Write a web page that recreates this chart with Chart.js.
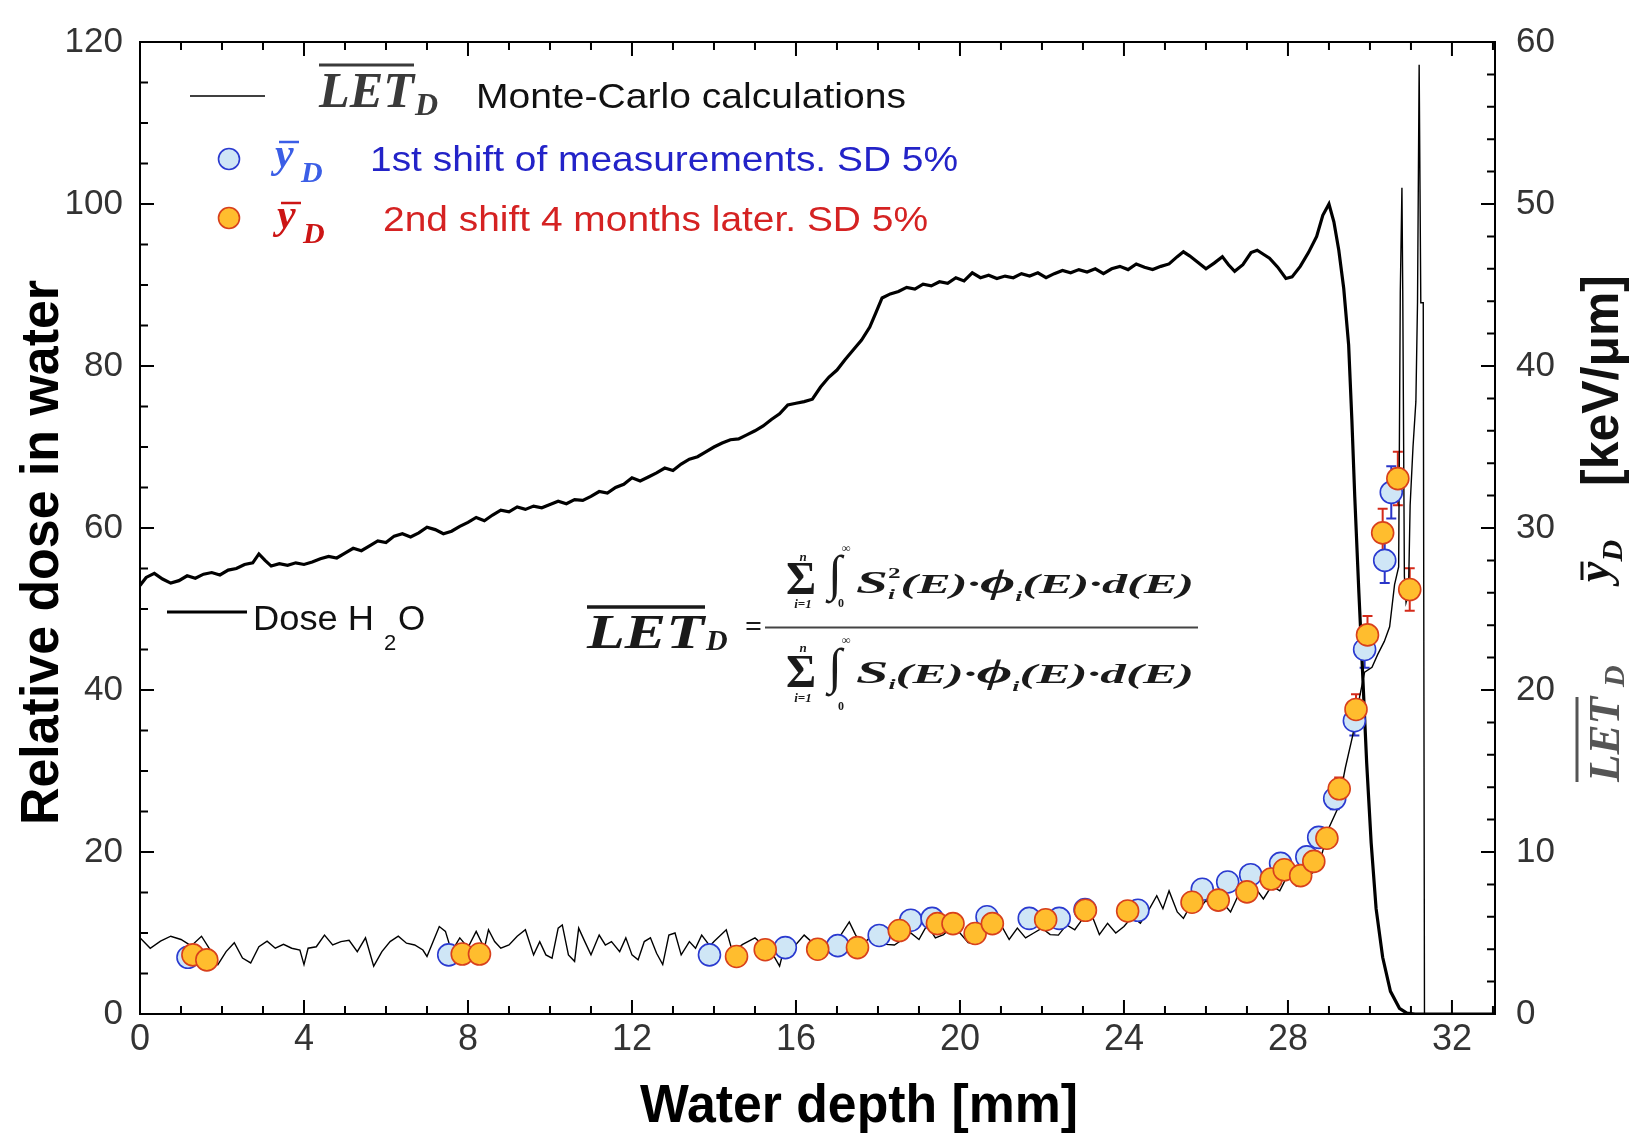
<!DOCTYPE html>
<html>
<head>
<meta charset="utf-8">
<script src="https://cdn.jsdelivr.net/npm/chart.js@4.4.1/dist/chart.umd.min.js"></script>
<style>
  html, body { margin: 0; padding: 0; background: #fff; }
</style>
</head>
<body>
<canvas id="myChart" width="1641" height="1134"></canvas>
<script>
// [depth mm, relative dose]
const doseCurve = [
  [0, 52.9], [0.15, 53.9], [0.35, 54.4], [0.55, 53.7], [0.75, 53.2], [0.95, 53.5], [1.15, 54.1], [1.35, 53.8],
  [1.55, 54.3], [1.75, 54.5], [1.95, 54.2], [2.15, 54.8], [2.35, 55.0], [2.55, 55.5], [2.75, 55.7], [2.9, 56.8],
  [3.05, 56.0], [3.2, 55.3], [3.4, 55.6], [3.6, 55.4], [3.8, 55.7], [4.0, 55.5], [4.2, 55.8], [4.4, 56.2],
  [4.6, 56.5], [4.8, 56.3], [5.0, 56.9], [5.2, 57.5], [5.4, 57.2], [5.6, 57.8], [5.8, 58.4], [6.0, 58.2],
  [6.2, 59.0], [6.4, 59.3], [6.6, 58.9], [6.8, 59.4], [7.0, 60.1], [7.2, 59.8], [7.4, 59.3], [7.6, 59.6],
  [7.8, 60.2], [8.0, 60.7], [8.2, 61.3], [8.4, 60.9], [8.6, 61.6], [8.8, 62.2], [9.0, 62.0], [9.2, 62.6],
  [9.4, 62.3], [9.6, 62.7], [9.8, 62.5], [10.0, 62.9], [10.2, 63.3], [10.4, 63.0], [10.6, 63.5], [10.8, 63.4],
  [11.0, 63.9], [11.2, 64.5], [11.4, 64.3], [11.6, 65.0], [11.8, 65.4], [12.0, 66.2], [12.2, 65.8], [12.4, 66.3],
  [12.6, 66.8], [12.8, 67.4], [13.0, 67.1], [13.2, 67.9], [13.4, 68.5], [13.6, 68.8], [13.8, 69.4], [14.0, 70.0],
  [14.2, 70.5], [14.4, 70.9], [14.6, 71.0], [14.8, 71.5], [15.0, 72.0], [15.2, 72.6], [15.4, 73.4], [15.6, 74.1],
  [15.8, 75.2], [16.0, 75.4], [16.2, 75.6], [16.4, 75.9], [16.6, 77.4], [16.8, 78.6], [17.0, 79.5], [17.2, 80.8],
  [17.4, 82.0], [17.6, 83.2], [17.8, 84.8], [17.95, 86.6], [18.1, 88.4], [18.3, 88.9], [18.5, 89.2], [18.7, 89.7],
  [18.9, 89.5], [19.1, 90.1], [19.3, 89.9], [19.5, 90.4], [19.7, 90.2], [19.9, 90.9], [20.1, 90.5], [20.3, 91.5],
  [20.5, 90.9], [20.7, 91.2], [20.9, 90.8], [21.1, 91.1], [21.3, 90.9], [21.5, 91.4], [21.7, 91.1], [21.9, 91.5],
  [22.1, 90.9], [22.3, 91.4], [22.5, 91.8], [22.7, 91.5], [22.9, 91.9], [23.1, 91.6], [23.3, 92.0], [23.5, 91.4],
  [23.7, 92.0], [23.9, 92.3], [24.1, 91.9], [24.3, 92.6], [24.5, 92.2], [24.7, 91.9], [24.9, 92.3], [25.1, 92.6],
  [25.3, 93.5], [25.45, 94.1], [25.6, 93.6], [25.8, 92.8], [26.0, 92.0], [26.2, 92.7], [26.4, 93.5], [26.55, 92.5],
  [26.7, 91.7], [26.9, 92.5], [27.1, 94.0], [27.25, 94.3], [27.4, 93.8], [27.55, 93.3], [27.75, 92.2], [27.95, 90.8],
  [28.1, 91.0], [28.3, 92.3], [28.5, 94.0], [28.7, 96.0], [28.85, 98.6], [29.0, 100.0], [29.12, 97.8], [29.24, 94.3],
  [29.36, 89.6], [29.48, 82.6], [29.56, 73.2], [29.63, 63.8], [29.73, 52.0], [29.82, 42.2], [29.92, 31.0], [30.03, 21.1],
  [30.15, 13.0], [30.31, 7.0], [30.5, 2.8], [30.72, 0.7], [30.9, 0.1], [31.1, 0], [33.05, 0]
];

// [depth mm, LET_D keV/um] Monte-Carlo
const letCurve = [
  [0, 4.7], [0.25, 4.06], [0.5, 4.5], [0.75, 4.8], [1.0, 4.6], [1.25, 4.2], [1.5, 4.8], [1.7, 4.0], [1.9, 3.05],
  [2.1, 3.85], [2.3, 4.4], [2.5, 3.45], [2.7, 3.15], [2.9, 4.15], [3.1, 4.5], [3.3, 4.06], [3.5, 4.3], [3.7, 4.06],
  [3.9, 3.95], [4.0, 3.05], [4.1, 4.06], [4.3, 4.15], [4.5, 4.87], [4.7, 4.26], [4.9, 4.47], [5.1, 4.55], [5.3, 3.85],
  [5.5, 4.7], [5.7, 2.95], [5.9, 3.85], [6.1, 4.47], [6.3, 4.8], [6.5, 4.37], [6.7, 4.26], [6.9, 3.95], [7.0, 3.55],
  [7.15, 4.47], [7.3, 5.4], [7.45, 5.1], [7.6, 3.85], [7.8, 4.7], [8.0, 4.1], [8.2, 5.1], [8.4, 4.06], [8.5, 5.2],
  [8.65, 4.47], [8.8, 4.06], [9.0, 4.26], [9.2, 4.8], [9.4, 5.2], [9.6, 3.65], [9.75, 4.47], [9.9, 3.65], [10.05, 3.45],
  [10.2, 5.3], [10.3, 5.5], [10.45, 3.65], [10.6, 3.25], [10.7, 5.3], [10.85, 4.47], [11.0, 3.65], [11.2, 4.87],
  [11.35, 4.26], [11.5, 4.47], [11.7, 3.85], [11.85, 4.7], [12.0, 3.65], [12.15, 3.35], [12.3, 4.47], [12.45, 4.7],
  [12.6, 3.75], [12.75, 3.05], [12.9, 4.87], [13.05, 5.0], [13.2, 3.65], [13.4, 4.47], [13.55, 4.06], [13.7, 4.87],
  [13.9, 4.2], [14.0, 4.47], [14.3, 5.2], [14.45, 3.85], [14.7, 4.3], [15.0, 4.7], [15.2, 4.26], [15.4, 3.85],
  [15.6, 2.95], [15.75, 4.47], [16.0, 4.3], [16.2, 4.87], [16.45, 4.3], [16.7, 4.06], [16.9, 4.5], [17.1, 4.9],
  [17.3, 5.68], [17.45, 4.9], [17.6, 4.26], [17.8, 4.7], [18.0, 4.5], [18.2, 4.3], [18.4, 4.26], [18.6, 4.6],
  [18.8, 5.0], [19.0, 4.6], [19.2, 5.5], [19.4, 4.7], [19.6, 4.9], [19.8, 5.4], [20.0, 5.0], [20.2, 4.4], [20.4, 4.3],
  [20.6, 5.1], [20.8, 5.6], [21.0, 5.5], [21.2, 4.6], [21.4, 5.3], [21.6, 4.7], [21.8, 5.0], [22.0, 5.3], [22.2, 4.9],
  [22.4, 4.87], [22.6, 5.5], [22.8, 5.2], [23.0, 5.9], [23.2, 6.2], [23.4, 4.9], [23.6, 5.6], [23.8, 5.0], [24.0, 5.4],
  [24.2, 6.0], [24.4, 5.6], [24.6, 6.4], [24.8, 7.3], [24.95, 6.5], [25.1, 7.6], [25.3, 6.3], [25.45, 5.9], [25.6, 6.6],
  [25.8, 6.4], [26.0, 7.0], [26.2, 6.5], [26.4, 6.9], [26.6, 6.3], [26.8, 7.4], [27.0, 7.2], [27.2, 7.8], [27.4, 7.1],
  [27.6, 7.9], [27.8, 7.6], [28.0, 8.6], [28.2, 7.9], [28.4, 8.8], [28.6, 8.7], [28.8, 9.6], [29.0, 11.5], [29.2, 12.6],
  [29.4, 15.2], [29.58, 17.2], [29.75, 19.6], [29.87, 21.1], [30.05, 21.4], [30.19, 22.2], [30.35, 23.0], [30.48, 23.9],
  [30.6, 26.5], [30.7, 27.6], [30.74, 44.6], [30.78, 51.0], [30.8, 44.6], [30.84, 27.0], [30.88, 25.4], [30.94, 26.0],
  [30.98, 31.4], [31.05, 35.0], [31.12, 37.8], [31.16, 43.9], [31.2, 58.6], [31.24, 43.9], [31.3, 43.9], [31.33, 0],
  [33.05, 0]
];

// [depth mm, y_D keV/um] measurements
const shift1 = [
  [1.17, 3.5], [7.53, 3.65], [13.89, 3.65], [15.74, 4.1], [17.02, 4.22], [18.03, 4.85], [18.8, 5.79], [19.32, 5.9],
  [20.66, 6.0], [21.69, 5.9], [22.42, 5.9], [23.05, 6.45], [24.34, 6.4], [25.91, 7.7], [26.53, 8.15], [27.09, 8.6],
  [27.82, 9.3], [28.46, 9.7], [28.75, 10.9], [29.14, 13.3], [29.62, 18.1], [29.87, 22.5], [30.36, 28.0], [30.52, 32.2]
];
const shift2 = [
  [1.29, 3.65], [1.63, 3.34], [7.86, 3.7], [8.28, 3.7], [14.55, 3.55], [15.25, 3.97], [16.53, 4.0], [17.5, 4.1],
  [18.52, 5.15], [19.45, 5.58], [19.83, 5.58], [20.37, 4.97], [20.79, 5.58], [22.09, 5.82], [23.06, 6.4], [24.09, 6.36],
  [25.66, 6.9], [26.3, 7.03], [27.0, 7.54], [27.59, 8.33], [27.91, 8.9], [28.31, 8.54], [28.63, 9.42], [28.95, 10.85],
  [29.25, 13.9], [29.66, 18.8], [29.94, 23.4], [30.31, 29.7], [30.68, 33.05], [30.97, 26.2]
];
const sdFraction = 0.05;

const xTickValues = [0, 4, 8, 12, 16, 20, 24, 28, 32];
const yTickValues = [0, 20, 40, 60, 80, 100, 120];
const y2TickValues = [0, 10, 20, 30, 40, 50, 60];

const SANS = '"Liberation Sans", Arial, Helvetica, sans-serif';
const SERIF = '"Liberation Serif", "Times New Roman", serif';
const bi = s => `italic bold ${s}px ${SERIF}`;

const toXY = arr => arr.map(p => ({ x: p[0], y: p[1] }));

function fitText(ctx, text, x, y, width) {
  const w = ctx.measureText(text).width;
  ctx.save();
  ctx.translate(x, y);
  ctx.scale(width / w, 1);
  ctx.fillText(text, 0, 0);
  ctx.restore();
}

function drawSeq(ctx, pieces, x, base, width) {
  let natural = 0;
  pieces.forEach(p => { ctx.font = p.f; if (!p.stay) natural += ctx.measureText(p.t).width; });
  ctx.save();
  ctx.translate(x, base);
  ctx.scale(width / natural, 1);
  let cx = 0;
  pieces.forEach(p => {
    ctx.font = p.f;
    ctx.fillText(p.t, cx, p.dy || 0);
    if (!p.stay) cx += ctx.measureText(p.t).width;
  });
  ctx.restore();
}

function overline(ctx, x1, x2, y, w) {
  ctx.beginPath();
  ctx.lineWidth = w;
  ctx.moveTo(x1, y);
  ctx.lineTo(x2, y);
  ctx.stroke();
}

function marker(ctx, x, y, fill, stroke) {
  ctx.beginPath();
  ctx.arc(x, y, 10.5, 0, Math.PI * 2);
  ctx.fillStyle = fill;
  ctx.fill();
  ctx.lineWidth = 1.6;
  ctx.strokeStyle = stroke;
  ctx.stroke();
}

const errorBars = {
  id: 'errorBars',
  beforeDatasetsDraw(chart) {
    const ctx = chart.ctx, xs = chart.scales.x, ys = chart.scales.y2;
    chart.data.datasets.forEach(ds => {
      if (!ds.errColor) return;
      ctx.save();
      ctx.strokeStyle = ds.errColor;
      ctx.lineWidth = 2;
      ds.data.forEach(p => {
        const px = xs.getPixelForValue(p.x);
        const hi = ys.getPixelForValue(p.y * (1 + sdFraction));
        const lo = ys.getPixelForValue(p.y * (1 - sdFraction));
        ctx.beginPath();
        ctx.moveTo(px, hi); ctx.lineTo(px, lo);
        ctx.moveTo(px - 5, hi); ctx.lineTo(px + 5, hi);
        ctx.moveTo(px - 5, lo); ctx.lineTo(px + 5, lo);
        ctx.stroke();
      });
      ctx.restore();
    });
  }
};

// frame + inward ticks
const frameTicks = {
  id: 'frameTicks',
  afterDatasetsDraw(chart) {
    const ctx = chart.ctx, a = chart.chartArea;
    const { x, y, y2 } = chart.scales;
    ctx.save();
    ctx.strokeStyle = '#000';
    ctx.lineWidth = 2;
    ctx.strokeRect(a.left, a.top, a.right - a.left, a.bottom - a.top);
    ctx.beginPath();
    for (let v = 0; v <= 33; v += 1) {
      const px = x.getPixelForValue(v);
      const len = v % 4 === 0 ? 14 : 8;
      ctx.moveTo(px, a.bottom); ctx.lineTo(px, a.bottom - len);
      ctx.moveTo(px, a.top); ctx.lineTo(px, a.top + len);
    }
    for (let v = 0; v <= 120; v += 5) {
      const py = y.getPixelForValue(v);
      const len = v % 20 === 0 ? 14 : 8;
      ctx.moveTo(a.left, py); ctx.lineTo(a.left + len, py);
    }
    for (let v = 0; v <= 60; v += 2) {
      const py = y2.getPixelForValue(v);
      const len = v % 10 === 0 ? 14 : 8;
      ctx.moveTo(a.right, py); ctx.lineTo(a.right - len, py);
    }
    ctx.stroke();
    ctx.restore();
  }
};

const annotations = {
  id: 'annotations',
  afterDraw(chart) {
    const ctx = chart.ctx;
    ctx.save();
    ctx.textBaseline = 'alphabetic';
    ctx.textAlign = 'left';

    // axis titles
    ctx.fillStyle = '#000';
    ctx.font = `bold 53px ${SANS}`;
    fitText(ctx, 'Water depth [mm]', 640, 1122, 438);

    ctx.save();
    ctx.translate(58, 825);
    ctx.rotate(-Math.PI / 2);
    ctx.font = `bold 53px ${SANS}`;
    fitText(ctx, 'Relative dose in water', 0, 0, 545);
    ctx.restore();

    // right axis title (reads bottom to top)
    ctx.save();
    ctx.translate(1578, 782);
    ctx.rotate(-Math.PI / 2);
    ctx.fillStyle = '#555';
    ctx.strokeStyle = '#555';
    ctx.font = bi(45);
    const wl = ctx.measureText('LET').width;
    ctx.fillText('LET', 0, 41);
    overline(ctx, 0, wl, -1, 3);
    ctx.font = bi(30);
    ctx.fillText('D', wl + 10, 46);
    ctx.fillStyle = '#111';
    ctx.strokeStyle = '#111';
    ctx.font = bi(46);
    const wy = ctx.measureText('y').width;
    ctx.fillText('y', 200, 31);
    overline(ctx, 202, 200 + wy, 4, 3);
    ctx.font = bi(30);
    ctx.fillText('D', 200 + wy, 44);
    ctx.font = `bold 52px ${SANS}`;
    fitText(ctx, '[keV/\u03bcm]', 296, 40, 211);
    ctx.restore();

    // legend top
    ctx.strokeStyle = '#000';
    overline(ctx, 190, 265, 96, 1.5);
    ctx.fillStyle = '#3a3a3a';
    ctx.strokeStyle = '#3a3a3a';
    ctx.font = bi(50);
    fitText(ctx, 'LET', 319, 107, 95);
    overline(ctx, 319, 414, 65, 3);
    ctx.font = bi(32);
    ctx.fillText('D', 415, 115);
    ctx.fillStyle = '#111';
    ctx.font = `35px ${SANS}`;
    fitText(ctx, 'Monte-Carlo calculations', 476, 108, 430);

    marker(ctx, 229, 159, '#cfe6f6', '#2a3ad0');
    ctx.fillStyle = '#3b5ee6';
    ctx.strokeStyle = '#3b5ee6';
    ctx.font = bi(42);
    ctx.fillText('y', 275, 167);
    overline(ctx, 279, 299, 142, 2.5);
    ctx.font = bi(30);
    ctx.fillText('D', 301, 182);
    ctx.fillStyle = '#2323c8';
    ctx.font = `35px ${SANS}`;
    fitText(ctx, '1st shift of measurements. SD 5%', 370, 171, 588);

    marker(ctx, 229, 218, '#ffbd2e', '#d8401c');
    ctx.fillStyle = '#cc1515';
    ctx.strokeStyle = '#cc1515';
    ctx.font = bi(42);
    ctx.fillText('y', 277, 228);
    overline(ctx, 281, 301, 203, 2.5);
    ctx.font = bi(30);
    ctx.fillText('D', 303, 243);
    ctx.fillStyle = '#d52222';
    ctx.font = `35px ${SANS}`;
    fitText(ctx, '2nd shift 4 months later. SD 5%', 383, 231, 545);

    // dose legend
    ctx.strokeStyle = '#000';
    overline(ctx, 167, 247, 612, 3);
    ctx.fillStyle = '#111';
    ctx.font = `35px ${SANS}`;
    fitText(ctx, 'Dose H', 253, 630, 121);
    ctx.font = `22px ${SANS}`;
    ctx.fillText('2', 384, 650);
    ctx.font = `35px ${SANS}`;
    ctx.fillText('O', 398, 630);

    // formula
    ctx.fillStyle = '#1a1a1a';
    ctx.strokeStyle = '#1a1a1a';
    ctx.font = bi(48);
    fitText(ctx, 'LET', 587, 648, 117);
    overline(ctx, 587, 705, 607, 3.5);
    ctx.font = bi(30);
    ctx.fillText('D', 706, 650);
    ctx.font = `bold 30px ${SERIF}`;
    ctx.fillText('=', 745, 636);
    ctx.strokeStyle = '#444';
    overline(ctx, 765, 1198, 627.5, 1.8);

    const num = [
      { t: 'S', f: bi(32) },
      { t: 'i', f: bi(14), dy: 6, stay: true },
      { t: '2', f: `bold 14px ${SERIF}`, dy: -15 },
      { t: '(E)\u00b7', f: bi(28) },
      { t: '\u03d5', f: bi(34) },
      { t: 'i', f: bi(14), dy: 8 },
      { t: '(E)\u00b7d(E)', f: bi(28) }
    ];
    const den = [
      { t: 'S', f: bi(32) },
      { t: 'i', f: bi(14), dy: 6 },
      { t: '(E)\u00b7', f: bi(28) },
      { t: '\u03d5', f: bi(34) },
      { t: 'i', f: bi(14), dy: 8 },
      { t: '(E)\u00b7d(E)', f: bi(28) }
    ];
    drawSeq(ctx, num, 856, 593, 338);
    drawSeq(ctx, den, 856, 683, 338);

    // sums and integrals with limits
    [[594, 561, 608, 590, 552, 607], [687, 652, 702, 683, 644, 710]].forEach(r => {
      ctx.font = `bold 46px ${SERIF}`;
      ctx.fillText('\u03a3', 786, r[0]);
      ctx.font = `bold 50px ${SERIF}`;
      ctx.fillText('\u222b', 828, r[3]);
      ctx.textAlign = 'center';
      ctx.font = `italic bold 13px ${SERIF}`;
      ctx.fillText('n', 803, r[1]);
      ctx.fillText('i=1', 803, r[2]);
      ctx.font = `bold 12px ${SERIF}`;
      ctx.fillText('\u221e', 846, r[4]);
      ctx.fillText('0', 841, r[5]);
      ctx.textAlign = 'left';
    });

    ctx.restore();
  }
};

const ctx = document.getElementById('myChart');

new Chart(ctx, {
  type: 'scatter',
  data: {
    datasets: [
      {
        label: '2nd shift',
        data: toXY(shift2),
        yAxisID: 'y2',
        pointRadius: 11,
        pointBackgroundColor: '#ffbd2e',
        pointBorderColor: '#d8401c',
        pointBorderWidth: 1.6,
        showLine: false,
        order: 1,
        errColor: '#d42a1a'
      },
      {
        label: '1st shift',
        data: toXY(shift1),
        yAxisID: 'y2',
        pointRadius: 11,
        pointBackgroundColor: '#cfe6f6',
        pointBorderColor: '#2a3ad0',
        pointBorderWidth: 1.6,
        showLine: false,
        order: 2,
        errColor: '#2a35c8'
      },
      {
        label: 'LET',
        data: toXY(letCurve),
        yAxisID: 'y2',
        showLine: true,
        borderColor: '#000',
        borderWidth: 1.4,
        pointRadius: 0,
        order: 3
      },
      {
        label: 'Dose',
        data: toXY(doseCurve),
        yAxisID: 'y',
        showLine: true,
        borderColor: '#000',
        borderWidth: 3.2,
        pointRadius: 0,
        order: 4
      }
    ]
  },
  options: {
    responsive: false,
    animation: false,
    devicePixelRatio: 1,
    layout: { padding: { top: 31, left: 0, right: 0, bottom: 0 } },
    scales: {
      x: {
        type: 'linear',
        min: 0,
        max: 33.05,
        afterFit: s => { s.height = 120; },
        afterBuildTicks: s => { s.ticks = xTickValues.map(v => ({ value: v })); },
        grid: { display: false, drawTicks: false },
        border: { display: false },
        ticks: { padding: 4, color: '#333', maxRotation: 0, autoSkip: false, font: { family: SANS, size: 36 } }
      },
      y: {
        position: 'left',
        min: 0,
        max: 120,
        afterFit: s => { s.width = 140; },
        afterBuildTicks: s => { s.ticks = yTickValues.map(v => ({ value: v })); },
        grid: { display: false, drawTicks: false },
        border: { display: false },
        ticks: { padding: 17, color: '#333', font: { family: SANS, size: 35 } }
      },
      y2: {
        position: 'right',
        min: 0,
        max: 60,
        afterFit: s => { s.width = 146; },
        afterBuildTicks: s => { s.ticks = y2TickValues.map(v => ({ value: v })); },
        grid: { display: false, drawTicks: false },
        border: { display: false },
        ticks: { padding: 21, color: '#333', font: { family: SANS, size: 35 } }
      }
    },
    plugins: {
      legend: { display: false },
      title: { display: false },
      tooltip: { enabled: false }
    }
  },
  plugins: [errorBars, frameTicks, annotations]
});
</script>
</body>
</html>
